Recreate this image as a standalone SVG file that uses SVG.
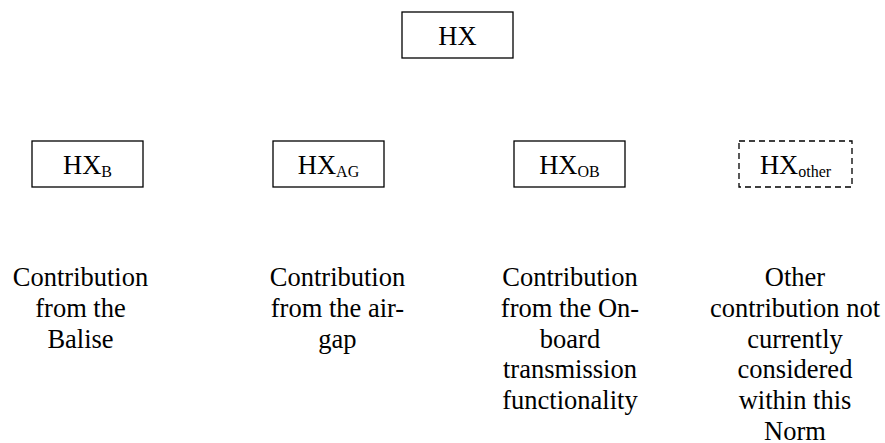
<svg xmlns="http://www.w3.org/2000/svg" width="885" height="443" viewBox="0 0 885 443">
<style>
.box{fill:#fff;stroke:#000;stroke-width:1.3}
.dash{stroke-dasharray:6 4}
text{font-family:"Liberation Serif","Times New Roman",serif;font-size:26.5px;fill:#000;text-anchor:middle}
.sub{font-size:16px}
</style>
<rect width="885" height="443" fill="#fff"/>
<g id="connectors"></g>
<g id="hx">
<rect class="box" x="402" y="12" width="111" height="46"/>
<text x="457.5" y="45">HX</text>
</g>
<g id="hxb">
<rect class="box" x="32" y="141" width="111" height="46"/>
<text x="87.5" y="174">HX<tspan class="sub" dy="3">B</tspan></text>
</g>
<g id="hxag">
<rect class="box" x="273" y="141" width="111" height="46"/>
<text x="328.5" y="174">HX<tspan class="sub" dy="3">AG</tspan></text>
</g>
<g id="hxob">
<rect class="box" x="514" y="141" width="111" height="46"/>
<text x="569.5" y="174">HX<tspan class="sub" dy="3">OB</tspan></text>
</g>
<g id="hxother">
<rect class="box dash" x="739" y="141" width="113" height="46"/>
<text x="795.5" y="174">HX<tspan class="sub" dy="3">other</tspan></text>
</g>
<g id="desc-b">
<text x="80.5" y="285.7">Contribution</text>
<text x="80.5" y="316.6">from the</text>
<text x="80.5" y="347.5">Balise</text>
</g>
<g id="desc-ag">
<text x="337.5" y="285.7">Contribution</text>
<text x="337.5" y="316.6">from the air-</text>
<text x="337.5" y="347.5">gap</text>
</g>
<g id="desc-ob">
<text x="570" y="285.7">Contribution</text>
<text x="570" y="316.6">from the On-</text>
<text x="570" y="347.5">board</text>
<text x="570" y="378.4">transmission</text>
<text x="570" y="409.3">functionality</text>
</g>
<g id="desc-other">
<text x="795" y="285.7">Other</text>
<text x="795" y="316.6">contribution not</text>
<text x="795" y="347.5">currently</text>
<text x="795" y="378.4">considered</text>
<text x="795" y="409.3">within this</text>
<text x="795" y="440.2">Norm</text>
</g>
</svg>
